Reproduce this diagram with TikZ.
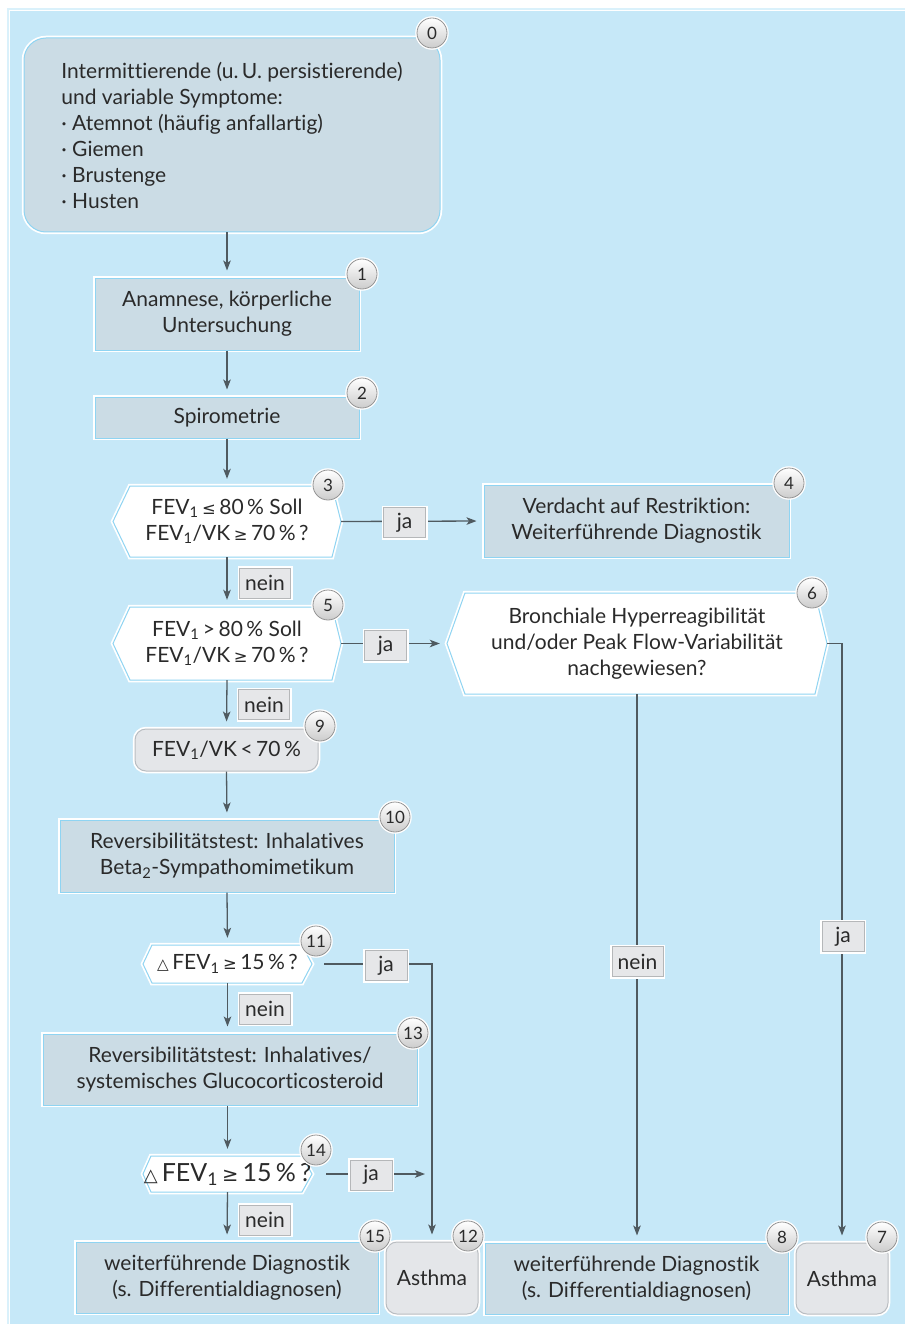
\documentclass[tikz,border=0pt]{standalone}
\usepackage{fontspec}
\setmainfont[Ligatures=NoCommon]{Lato}
\newfontfamily\symf{DejaVu Sans}
\usetikzlibrary{arrows.meta}
\definecolor{panelc}{HTML}{C6E8F8}
\definecolor{panelrim}{HTML}{DAF1FB}
\definecolor{boxfill}{HTML}{CBDCE5}
\definecolor{edgeblue}{HTML}{8FD4F2}
\definecolor{grayfill}{HTML}{E4E6E9}
\definecolor{grayedge}{HTML}{B9BDC1}
\definecolor{labfill}{HTML}{E6E7E9}
\definecolor{labedge}{HTML}{B5B7B9}
\definecolor{txtc}{HTML}{2A2A2A}
\definecolor{linec}{HTML}{4F5A60}
\newcommand\mainsz{\fontsize{21}{26}\selectfont}
\newcommand\lesym{{\symf\scalebox{0.78}{≤}}}
\newcommand\gesym{{\symf\scalebox{0.78}{≥}}}
\newcommand\trisym{{\symf\scalebox{0.72}{△}}}
\newcommand\hexat[6]{%
  \path[hexshape] ({#1-#3/2},#2) -- ({#1-#3/2+#5},{#2-#4/2}) -- ({#1+#3/2-#6},{#2-#4/2})
    -- ({#1+#3/2},#2) -- ({#1+#3/2-#6},{#2+#4/2}) -- ({#1-#3/2+#5},{#2+#4/2}) -- cycle;}
\begin{document}
\begin{tikzpicture}[x=1pt,y=-1pt,
  base/.style={text=txtc, font=\mainsz, align=center, inner sep=0pt},
  box/.style={base, rectangle, fill=boxfill, draw=edgeblue, line width=1pt,
    preaction={draw=white, line width=4.5pt}},
  rbox/.style={box, rounded corners=22pt},
  gbox/.style={base, rectangle, rounded corners=11pt, fill=grayfill, draw=grayedge,
    line width=1pt, preaction={draw=white, line width=4.5pt}},
  hexshape/.style={fill=white, draw=edgeblue, line width=1pt,
    preaction={draw=white, line width=4.5pt}, line join=miter},
  hexnode/.style={base, rectangle},
  lab/.style={base, rectangle, fill=labfill, draw=labedge, line width=0.8pt,
    preaction={draw=white, line width=4pt}, minimum height=30pt, minimum width=51pt},
  num/.style={circle, minimum size=30pt, inner sep=0pt, top color=white,
    bottom color=black!20, draw=black!42, line width=0.8pt,
    preaction={draw=white, line width=3.5pt},
    font=\fontsize{17}{17}\selectfont, text=txtc},
  conn/.style={draw=linec, line width=1.3pt},
  arr/.style={conn, -{Stealth[length=10pt,width=7.5pt,inset=2.5pt]}, shorten >=7pt}
]
\useasboundingbox (0,0) rectangle (905,1324);
\fill[white] (0,0) rectangle (905,1324);
\fill[panelrim] (7,8) rectangle (905,1324);
\fill[panelc] (10,11) rectangle (905,1324);
\draw[white, line width=1pt] (9.5,1324) -- (9.5,10.5) -- (905,10.5);

% nodes
\node[rbox, minimum width=416pt, minimum height=194pt, align=left] (n0) at (232,135)
  {Intermittierende (u.\,U. persistierende)\\und variable Symptome:\\· Atemnot (häufig anfallartig)\\· Giemen\\· Brustenge\\· Husten};
\node[box, minimum width=264pt, minimum height=72pt] (n1) at (227,314) {Anamnese, körperliche\\Untersuchung};
\node[box, minimum width=264pt, minimum height=41pt] (n2) at (227,417.5) {Spirometrie};

\hexat{227}{521.5}{228}{71}{17}{9}
\node[hexnode, minimum width=228pt, minimum height=71pt] (n3) at (227,521.5)
  {FEV\textsubscript{1}\,\lesym\,80\,\% Soll\\FEV\textsubscript{1}/VK\,\gesym\,70\,\%\,?};
\node[box, minimum width=305pt, minimum height=72pt] (n4) at (636.5,521) {Verdacht auf Restriktion:\\Weiterführende Diagnostik};

\hexat{227}{643.5}{228}{73}{17}{9}
\node[hexnode, minimum width=228pt, minimum height=73pt] (n5) at (227,643.5)
  {FEV\textsubscript{1}\,>\,80\,\% Soll\\FEV\textsubscript{1}/VK\,\gesym\,70\,\%\,?};

\hexat{637}{643.5}{380}{101}{18}{12}
\node[hexnode, minimum width=380pt, minimum height=101pt] (n6) at (637,643.5)
  {Bronchiale Hyperreagibilität\\und/oder Peak Flow-Variabilität\\nachgewiesen?};

\node[gbox, minimum width=183pt, minimum height=42pt] (n9) at (226.5,750) {FEV\textsubscript{1}/VK\,<\,70\,\%};
\node[box, minimum width=334pt, minimum height=72pt] (n10) at (227,856) {Reversibilitätstest: Inhalatives\\Beta\textsubscript{2}-Sympathomimetikum};

\hexat{227.5}{964}{169}{38}{9}{10}
\node[hexnode, minimum width=169pt, minimum height=38pt] (n11) at (227.5,964)
  {\trisym\,FEV\textsubscript{1}\,\gesym\,15\,\%\,?};

\node[box, minimum width=374pt, minimum height=71pt] (n13) at (230,1069.5) {Reversibilitätstest: Inhalatives/\\systemisches Glucocorticosteroid};

\hexat{227.5}{1174}{169}{36}{8}{10}
\node[hexnode, minimum width=169pt, minimum height=36pt, font=\fontsize{25}{28}\selectfont] (n14) at (227.5,1174)
  {\trisym\,FEV\textsubscript{1}\,\gesym\,15\,\%\,?};

\node[box, minimum width=302pt, minimum height=71pt] (n15) at (227,1277.5) {weiterführende Diagnostik\\(s. Differentialdiagnosen)};
\node[gbox, minimum width=92pt, minimum height=72pt] (n12) at (432,1278) {Asthma};
\node[box, minimum width=303pt, minimum height=71pt] (n8) at (636.5,1278.5) {weiterführende Diagnostik\\(s. Differentialdiagnosen)};
\node[gbox, minimum width=92pt, minimum height=71pt] (n7) at (842,1278.5) {Asthma};

\coordinate (j14) at (432,1174);

% connectors
\draw[arr] (n0.south -| n1.north) -- (n1.north);
\draw[arr] (n1) -- (n2);
\draw[arr] (n2.south) -- (n3.north);
\draw[arr] (n3.east) -- (n4.west);
\draw[arr] (n3.south) -- (n5.north);
\draw[arr] (n5.east) -- (n6.west);
\draw[arr] (n5.south) -- (n9.north);
\draw[arr] (n9.south) -- (n10.north);
\draw[arr] (n10.south) -- (n11.north);
\draw[arr, shorten <=12pt] (n11.east) -| (n12.north);
\draw[arr] (n11.south) -- (n11.south |- n13.north);
\draw[arr] (n13.south -| n14.north) -- (n14.north);
\draw[arr, shorten <=14pt] (n14.east) -- (j14);
\draw[arr] (n14.south) -- (n15.north);
\draw[arr] (n6.east) -| (n7.north);
\draw[arr] (n6.south) -- (n6.south |- n8.north);

% labels
\node[lab, minimum width=42pt] (l34) at (404.5,522.5) {ja};
\node[lab] (l35) at (265,583) {nein};
\node[lab, minimum width=42pt] (l56) at (385.5,645.5) {ja};
\node[lab] (l59) at (264,704.5) {nein};
\node[lab, minimum width=42pt] (l1112) at (386,965.5) {ja};
\node[lab] (l1113) at (265,1009) {nein};
\node[lab, minimum width=42pt] (l14j) at (371,1175) {ja};
\node[lab] (l1415) at (265,1220) {nein};
\node[lab] (l68) at (637.5,961.5) {nein};
\node[lab, minimum width=42pt] (l67) at (843,936.5) {ja};

% numbers
\node[num] (c0) at (432,33) {0};
\node[num] (c1) at (362,274) {1};
\node[num] (c2) at (362,393) {2};
\node[num] (c3) at (328,485) {3};
\node[num] (c4) at (789,483) {4};
\node[num] (c5) at (328,605) {5};
\node[num] (c6) at (812,593) {6};
\node[num] (c9) at (320,726) {9};
\node[num] (c10) at (395,817) {10};
\node[num] (c11) at (316,941) {11};
\node[num] (c13) at (413,1033) {13};
\node[num] (c14) at (316,1150) {14};
\node[num] (c15) at (375,1236) {15};
\node[num] (c12) at (468,1236) {12};
\node[num] (c8) at (782,1237) {8};
\node[num] (c7) at (882,1237) {7};
\end{tikzpicture}
\end{document}
